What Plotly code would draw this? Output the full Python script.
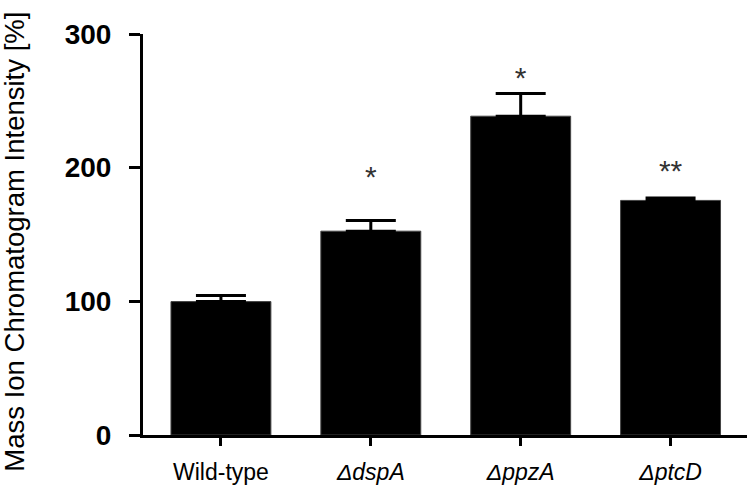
import plotly.graph_objects as go

categories = ["Wild-type", "<i>ΔdspA</i>", "<i>ΔppzA</i>", "<i>ΔptcD</i>"]
values = [99.8, 152.5, 238.5, 175.5]
errors = [4.5, 8.0, 17.0, 1.8]
star_labels = ["", "*", "*", "**"]
star_y = [None, 191.5, 265, 195.5]
y_ticks = [0, 100, 200, 300]

FONT = "Liberation Sans, Arial, sans-serif"

fig = go.Figure()
fig.add_trace(go.Bar(
    x=categories, y=values,
    marker=dict(color="black", line=dict(color="#444", width=1)),
    error_y=dict(type="data", array=errors, arrayminus=[0] * len(errors),
                 symmetric=False, color="black", thickness=3, width=25),
    showlegend=False,
))
fig.add_trace(go.Scatter(
    x=categories, y=star_y, mode="text", text=star_labels,
    textposition="middle center",
    textfont=dict(family=FONT, size=30, color="#333"),
    showlegend=False, hoverinfo="skip",
))

fig.update_layout(
    width=752, height=490,
    margin=dict(l=143, r=5, t=34, b=53),
    paper_bgcolor="white", plot_bgcolor="white",
    bargap=1/3,
    font=dict(family=FONT, color="black"),
    xaxis=dict(
        range=[-0.52, 3.51], showline=True, linecolor="black", linewidth=3,
        ticks="outside", ticklen=8, tickwidth=3, tickcolor="black",
        tickfont=dict(family=FONT, size=23, color="black"),
        ticklabelstandoff=6,
        showgrid=False, zeroline=False, fixedrange=True,
    ),
    yaxis=dict(
        range=[0, 300], tickvals=y_ticks, showline=True, linecolor="black",
        linewidth=3, ticks="outside", ticklen=11, tickwidth=3, tickcolor="black",
        tickfont=dict(family=FONT, size=28, color="black", weight="bold"),
        ticklabelstandoff=12,
        showgrid=False, zeroline=False, fixedrange=True,
    ),
    annotations=[dict(
        text="Mass Ion Chromatogram Intensity [%]", textangle=-90,
        xref="paper", yref="paper", x=-0.212, y=0.482,
        xanchor="center", yanchor="middle", showarrow=False,
        font=dict(family=FONT, size=27.5, color="black"),
    )],
)

fig.write_html("out.html", config={"displayModeBar": False},
               post_script="document.body.style.margin='0';document.body.style.padding='0';")
